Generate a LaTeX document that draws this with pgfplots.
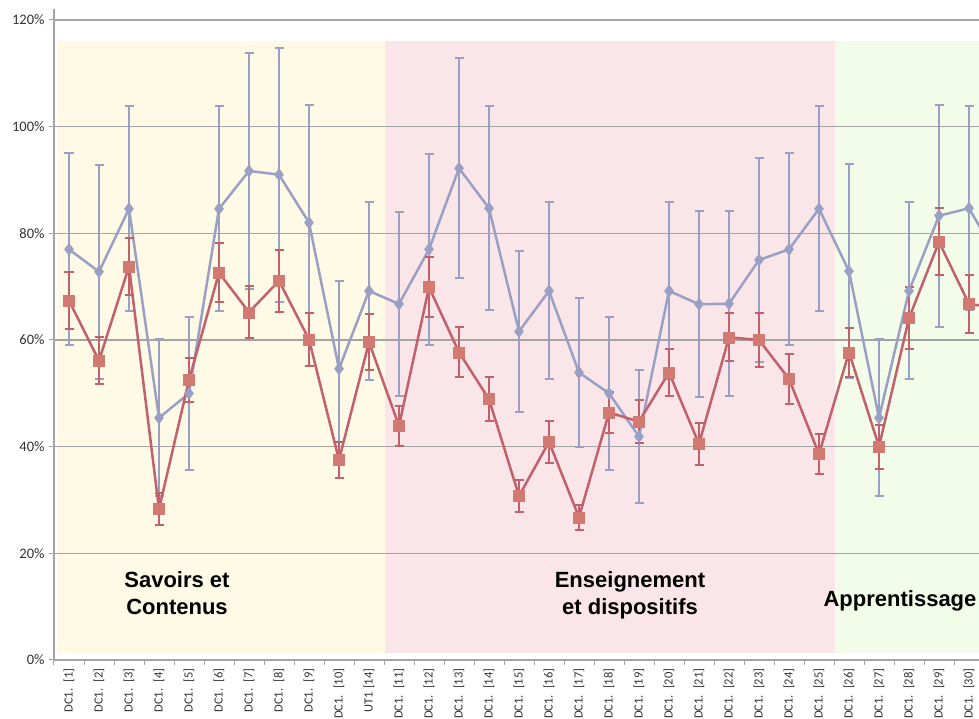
\documentclass[border=0pt]{standalone}
\usepackage{fontspec}
\setmainfont{Carlito}
\newfontfamily\regionfont{Liberation Sans}
\usepackage{pgfplots}
\pgfplotsset{compat=1.18}
\usepackage{pgfplotstable}
\definecolor{serblue}{HTML}{9AA0C4}
\definecolor{serred}{HTML}{C2606C}
\definecolor{sqfill}{HTML}{D27A72}
\definecolor{bgyel}{HTML}{FEFAE6}
\definecolor{bgpink}{HTML}{FAE6E8}
\definecolor{bggreen}{HTML}{F3FCE8}
\definecolor{gridc}{HTML}{A4A4A4}

\pgfplotstableread{
i  b     be    r     re
0  77.0  18.0  67.4  5.3
1  72.8  20.1  56.1  4.4
2  84.6  19.2  73.8  5.4
3  45.4  14.7  28.3  3.0
4  50.0  14.3  52.5  4.2
5  84.6  19.2  72.6  5.5
6  91.7  22.1  65.2  4.9
7  91.0  23.8  71.1  5.8
8  82.0  22.0  60.1  4.9
9  54.6  16.5  37.5  3.3
10 69.2  16.7  59.6  5.2
11 66.75 17.3  43.9  3.7
12 77.0  17.9  69.9  5.6
13 92.2  20.6  57.7  4.7
14 84.7  19.1  48.9  4.1
15 61.6  15.1  30.75 3.0
16 69.2  16.6  40.9  3.9
17 53.9  13.9  26.75 2.4
18 50.0  14.3  46.4  3.8
19 41.9  12.5  44.7  4.0
20 69.2  16.6  53.9  4.4
21 66.7  17.4  40.5  4.0
22 66.8  17.3  60.5  4.5
23 75.0  19.2  60.0  5.0
24 77.0  18.0  52.7  4.7
25 84.6  19.2  38.6  3.7
26 72.9  20.1  57.7  4.6
27 45.4  14.7  40.0  4.1
28 69.2  16.6  64.1  5.8
29 83.3  20.8  78.4  6.3
30 84.7  19.1  66.75 5.4
31 75.0  18.0  66.0  5.0
}\data

\begin{document}
\begin{tikzpicture}
\begin{axis}[
  set layers,
  scale only axis, width=960pt, height=650.667pt,
  xmin=-0.5, xmax=31.5, ymin=0, ymax=122,
  axis lines*=left,
  axis line style={draw=gridc, line width=1.2pt},
  xtick={0,...,30},
  xticklabels={{DC1.\enspace[1]},{DC1.\enspace[2]},{DC1.\enspace[3]},{DC1.\enspace[4]},{DC1.\enspace[5]},{DC1.\enspace[6]},{DC1.\enspace[7]},{DC1.\enspace[8]},{DC1.\enspace[9]},{DC1.\enspace[10]},{UT1 [14]},{DC1.\enspace[11]},{DC1.\enspace[12]},{DC1.\enspace[13]},{DC1.\enspace[14]},{DC1.\enspace[15]},{DC1.\enspace[16]},{DC1.\enspace[17]},{DC1.\enspace[18]},{DC1.\enspace[19]},{DC1.\enspace[20]},{DC1.\enspace[21]},{DC1.\enspace[22]},{DC1.\enspace[23]},{DC1.\enspace[24]},{DC1.\enspace[25]},{DC1.\enspace[26]},{DC1.\enspace[27]},{DC1.\enspace[28]},{DC1.\enspace[29]},{DC1.\enspace[30]}},
  minor xtick={-0.5,0.5,...,31.5},
  ytick={0,20,...,120},
  yticklabels={0\%,20\%,40\%,60\%,80\%,100\%,120\%},
  tick align=outside, major tick length=5pt, minor tick length=5pt,
  major x tick style={draw=none},
  minor x tick style={draw=gridc, line width=1pt},
  ytick style={draw=gridc, line width=1pt},
  ymajorgrids, grid style={draw=gridc, line width=1.2pt},
  xticklabel style={rotate=90, anchor=east, font=\fontsize{12.5}{14}\selectfont, text=black!80},
  yticklabel style={font=\fontsize{14.5}{16}\selectfont, text=black!80, xshift=-1pt},
]
\begin{pgfonlayer}{axis background}
  \fill[bgyel] (axis cs:-0.4,1.3) rectangle (axis cs:10.53,116);
  \fill[bgpink] (axis cs:10.53,1.3) rectangle (axis cs:25.53,116);
  \fill[bggreen] (axis cs:25.53,1.3) rectangle (axis cs:31.5,116);
\end{pgfonlayer}

\addplot[serblue, line width=2.5pt, mark=diamond*, mark size=6pt,
  mark options={fill=serblue, draw=serblue, line width=0.5pt},
  error bars/.cd, y dir=both, y explicit,
  error bar style={line width=2pt, serblue},
  error mark options={rotate=90, mark size=4.5pt, line width=2pt, serblue}]
  table[x=i, y=b, y error=be]{\data};

\addplot[serred, line width=2.5pt, mark=square*, mark size=5.5pt,
  mark options={fill=sqfill, draw=sqfill, line width=0.5pt},
  error bars/.cd, y dir=both, y explicit,
  error bar style={line width=2pt, serred},
  error mark options={rotate=90, mark size=4.5pt, line width=2pt, serred}]
  table[x=i, y=r, y error=re]{\data};

\node[font={\regionfont\bfseries\fontsize{22}{26}\selectfont}, anchor=base] at (axis cs:3.6,13.5) {Savoirs et};
\node[font={\regionfont\bfseries\fontsize{22}{26}\selectfont}, anchor=base] at (axis cs:3.6,8.44) {Contenus};
\node[font={\regionfont\bfseries\fontsize{22}{26}\selectfont}, anchor=base] at (axis cs:18.7,13.5) {Enseignement};
\node[font={\regionfont\bfseries\fontsize{22}{26}\selectfont}, anchor=base] at (axis cs:18.7,8.44) {et dispositifs};
\node[font={\regionfont\bfseries\fontsize{22}{26}\selectfont}, anchor=base] at (axis cs:27.7,9.94) {Apprentissage};

\coordinate (bl) at (axis cs:-2.3,-11.0625);
\coordinate (tr) at (axis cs:30.3333,123.75);
\end{axis}
\pgfresetboundingbox
\path[use as bounding box] (bl) rectangle (tr);
\end{tikzpicture}
\end{document}
